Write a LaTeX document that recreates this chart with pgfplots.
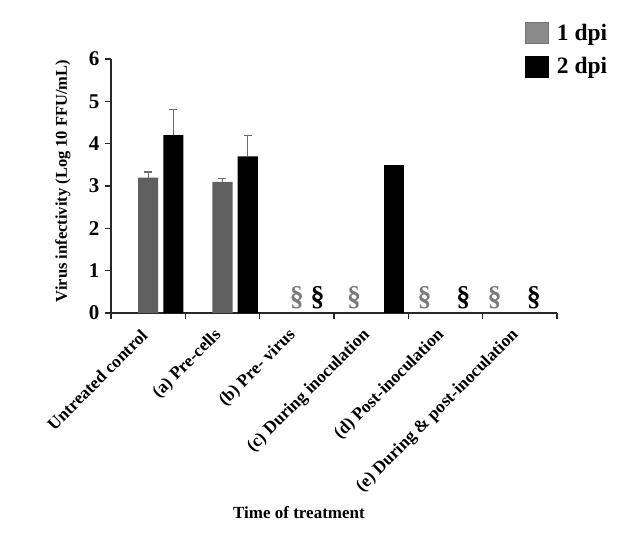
\documentclass[border=0pt]{standalone}
\usepackage{fontspec}
\setmainfont{Liberation Serif}
\usepackage{pgfplots}
\pgfplotsset{compat=1.18}
\definecolor{barg}{HTML}{606060}
\definecolor{legg}{HTML}{8A8A8A}
\definecolor{secg}{HTML}{7A7A7A}
\definecolor{errg}{HTML}{6A6A6A}
\begin{document}
\begin{tikzpicture}[x=1pt,y=1pt]
\useasboundingbox (-111,-245) rectangle (529,313);
\begin{axis}[
 at={(0,0)}, anchor=south west,
 scale only axis, width=446pt, height=254pt,
 xmin=-0.5, xmax=5.5, ymin=0, ymax=6,
 axis lines*=left,
 axis line style={line width=1.1pt, draw=black!85, -},
 every tick/.style={line width=1.1pt, black!85},
 tick align=outside,
 xtick={0,1,2,3,4,5},
 xticklabels={Untreated control,(a) Pre-cells,(b) Pre- virus,(c) During inoculation,(d) Post-inoculation,(e) During \& post-inoculation},
 major x tick style={draw=none},
 minor xtick={-0.5,0.5,1.5,2.5,3.5,4.5,5.5},
 minor tick length=6pt,
 major tick length=6pt,
 ytick={0,1,2,3,4,5,6},
 /pgf/number format/assume math mode=true,
 yticklabel style={font=\fontsize{21}{21}\selectfont\bfseries, xshift=-2pt},
 xticklabel style={rotate=45, anchor=east, font=\fontsize{17.5}{17.5}\selectfont\bfseries, xshift=-9pt, yshift=-7pt},
 ylabel={Virus infectivity (Log 10 FFU/mL)},
 ylabel style={at={(axis description cs:-0.108,0.52)}, anchor=center, font=\fontsize{16.5}{16.5}\selectfont\bfseries},
 xlabel={Time of treatment},
 xlabel style={at={(axis description cs:0.4215,-0.787)}, anchor=center, font=\fontsize{17}{17}\selectfont\bfseries},
 legend style={at={(0.92,1.155)}, anchor=north west, draw=none, fill=none, font=\fontsize{23.5}{24}\selectfont\bfseries, row sep=12pt,
   /tikz/every odd column/.append style={column sep=7pt}},
 legend cell align=left,
 clip=false,
]
\addplot[forget plot, ybar, bar width=0.27, bar shift=0pt, fill=barg, draw=none,
  error bars/.cd, y dir=plus, y explicit,
  error bar style={line width=1.2pt, errg},
  error mark options={rotate=90, mark size=4pt, line width=1.2pt, errg}]
  coordinates {(0,3.2) +- (0,0.13) (1,3.1) +- (0,0.08)};
\addplot[forget plot, ybar, bar width=0.27, bar shift=0pt, fill=black, draw=none,
  error bars/.cd, y dir=plus, y explicit,
  error bar style={line width=1.2pt, errg},
  error mark options={rotate=90, mark size=4pt, line width=1.2pt, errg}]
  coordinates {(0.34,4.2) +- (0,0.6) (1.34,3.7) +- (0,0.5)};
\addplot[forget plot, ybar, bar width=0.27, bar shift=0pt, fill=black, draw=none]
  coordinates {(3.31,3.5)};
\addplot[forget plot, draw=none, mark=none, nodes near coords={\S},
  every node near coord/.style={anchor=center, text=secg, font=\fontsize{28}{28}\selectfont\bfseries}]
  coordinates {(2.0,0.37) (2.77,0.37) (3.72,0.37) (4.66,0.37)};
\addplot[forget plot, draw=none, mark=none, nodes near coords={\S},
  every node near coord/.style={anchor=center, text=black, font=\fontsize{28}{28}\selectfont\bfseries}]
  coordinates {(2.28,0.37) (4.24,0.37) (5.19,0.37)};
\addlegendimage{legend image code/.code={\draw[fill=legg, draw=legg!85!black] (0pt,-10.5pt) rectangle (23pt,10.5pt);}}
\addlegendentry{1 dpi}
\addlegendimage{legend image code/.code={\draw[fill=black, draw=black] (0pt,-10.5pt) rectangle (23pt,10.5pt);}}
\addlegendentry{2 dpi}
\end{axis}
\end{tikzpicture}
\end{document}
